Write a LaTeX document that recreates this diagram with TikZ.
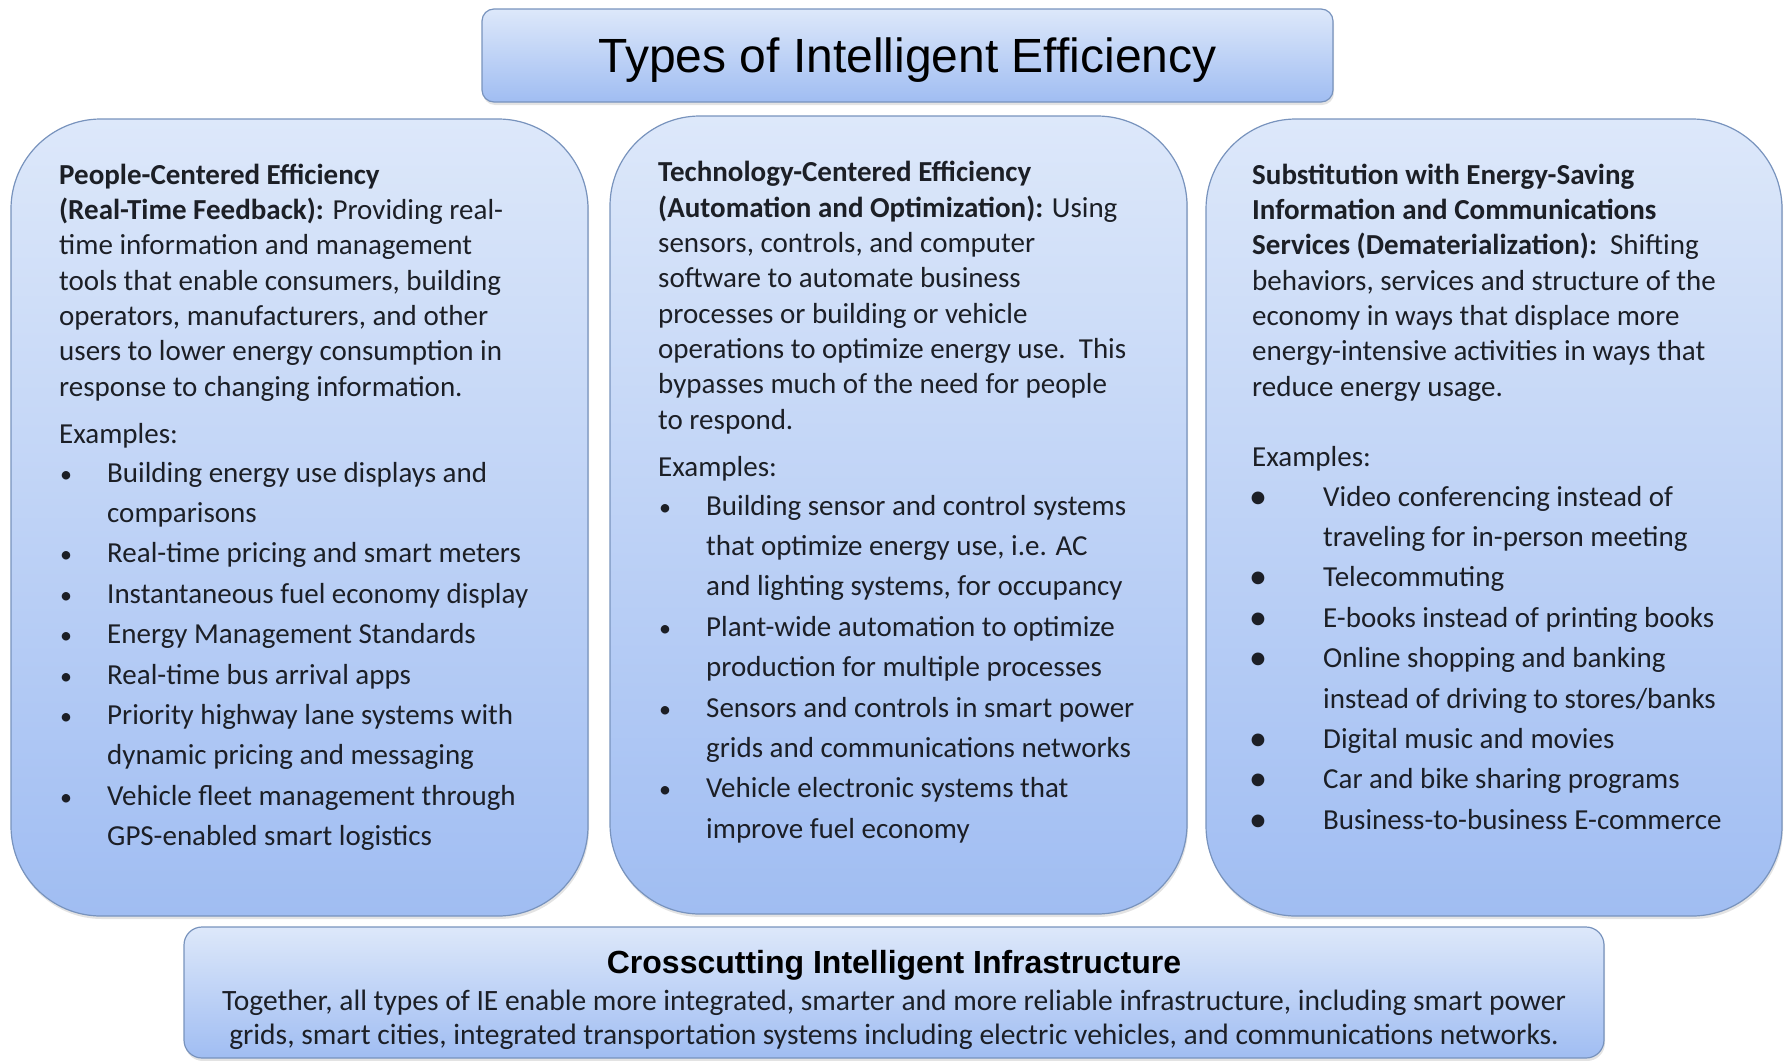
\documentclass[tikz,border=0pt]{standalone}
\usepackage{fontspec}
\setmainfont{Carlito}
\newfontfamily\arialfont{Liberation Sans}
\usetikzlibrary{shadows}

\definecolor{boxtop}{HTML}{DDE8FA}
\definecolor{boxbot}{HTML}{A0BDF2}
\definecolor{boxline}{HTML}{7893BD}
\definecolor{txt}{HTML}{1C1F26}

% bullets of the lists
\newcommand\pbul{\makebox[48pt][l]{\hspace{1pt}{\fontsize{24}{24}\selectfont\textbullet}}}
\newcommand\pind{\hspace*{48pt}}
\newcommand\rbul{\makebox[71pt][l]{\hspace{-3pt}\raisebox{-2pt}{\fontsize{36}{36}\selectfont\textbullet}}}
\newcommand\rind{\hspace*{71pt}}

% multi-line nodes sit on the baseline of their last line
\tikzset{
  panel/.style={draw=boxline, line width=1.2pt, top color=boxtop, bottom color=boxbot,
    rounded corners=#1, drop shadow={opacity=0.22, shadow xshift=1pt, shadow yshift=-3pt}},
  para/.style={anchor=base west, inner sep=0pt, align=left, text=txt,
    font=\fontsize{29}{35.3}\selectfont},
  list/.style={para, font=\fontsize{29}{40.4}\selectfont},
}

\begin{document}
\begin{tikzpicture}[x=1pt, y=-1pt]
\useasboundingbox (0,0) rectangle (1784,1060);

% title
\path[panel=12pt] (482,9) rectangle (1333,102);
\node[anchor=base, inner sep=0pt, font=\arialfont\fontsize{48}{50}\selectfont] (title) at (907.5,72)
  {Types of Intelligent Efficiency};

% the three panels
\path[panel=90pt] (11,119) rectangle (588,916);
\path[panel=90pt] (610,116) rectangle (1187,914);
\path[panel=90pt] (1206,119) rectangle (1782,916);

%% People-centered
\node[para] (peopletxt) at (59,396) {\textbf{People-Centered Efficiency}\\
  \textbf{(Real-Time Feedback):} Providing real-\\
  time information and management\\
  tools that enable consumers, building\\
  operators, manufacturers, and other\\
  users to lower energy consumption in\\
  response to changing information.};
\node[para] (peopleex) at (59,443.5) {Examples:};
\node[list] (peoplelist) at (59,845.6) {\pbul Building energy use displays and\\
  \pind comparisons\\
  \pbul Real-time pricing and smart meters\\
  \pbul Instantaneous fuel economy display\\
  \pbul Energy Management Standards\\
  \pbul Real-time bus arrival apps\\
  \pbul Priority highway lane systems with\\
  \pind dynamic pricing and messaging\\
  \pbul Vehicle fleet management through\\
  \pind GPS-enabled smart logistics};

%% Technology-centered
\node[para] (techtxt) at (658,429) {\textbf{Technology-Centered Efficiency}\\
  \textbf{(Automation and Optimization):} Using\\
  sensors, controls, and computer\\
  software to automate business\\
  processes or building or vehicle\\
  operations to optimize energy use.\ \ This\\
  bypasses much of the need for people\\
  to respond.};
\node[para] (techex) at (658,476.5) {Examples:};
\node[list] (techlist) at (658,838.2) {\pbul Building sensor and control systems\\
  \pind that optimize energy use, i.e. AC\\
  \pind and lighting systems, for occupancy\\
  \pbul Plant-wide automation to optimize\\
  \pind production for multiple processes\\
  \pbul Sensors and controls in smart power\\
  \pind grids and communications networks\\
  \pbul Vehicle electronic systems that\\
  \pind improve fuel economy};

%% Substitution
\node[para] (substtxt) at (1252,396) {\textbf{Substitution with Energy-Saving}\\
  \textbf{Information and Communications}\\
  \textbf{Services (Dematerialization):}\ \ Shifting\\
  behaviors, services and structure of the\\
  economy in ways that displace more\\
  energy-intensive activities in ways that\\
  reduce energy usage.};
\node[para] (substex) at (1252,466) {Examples:};
\node[list] (substlist) at (1252,829.2) {\rbul Video conferencing instead of\\
  \rind traveling for in-person meeting\\
  \rbul Telecommuting\\
  \rbul E-books instead of printing books\\
  \rbul Online shopping and banking\\
  \rind instead of driving to stores/banks\\
  \rbul Digital music and movies\\
  \rbul Car and bike sharing programs\\
  \rbul Business-to-business E-commerce};

% crosscutting box
\path[panel=18pt] (184,927) rectangle (1604,1058);
\node[anchor=base, inner sep=0pt, font=\arialfont\bfseries\fontsize{32}{34}\selectfont] (crosshead) at (894,973)
  {Crosscutting Intelligent Infrastructure};
\node[anchor=base, inner sep=0pt, align=center, text=txt, font=\fontsize{29.5}{34.5}\selectfont] (crosstxt) at (894,1044.5)
  {Together, all types of IE enable more integrated, smarter and more reliable infrastructure, including smart power\\
   grids, smart cities, integrated transportation systems including electric vehicles, and communications networks.};
\end{tikzpicture}
\end{document}
